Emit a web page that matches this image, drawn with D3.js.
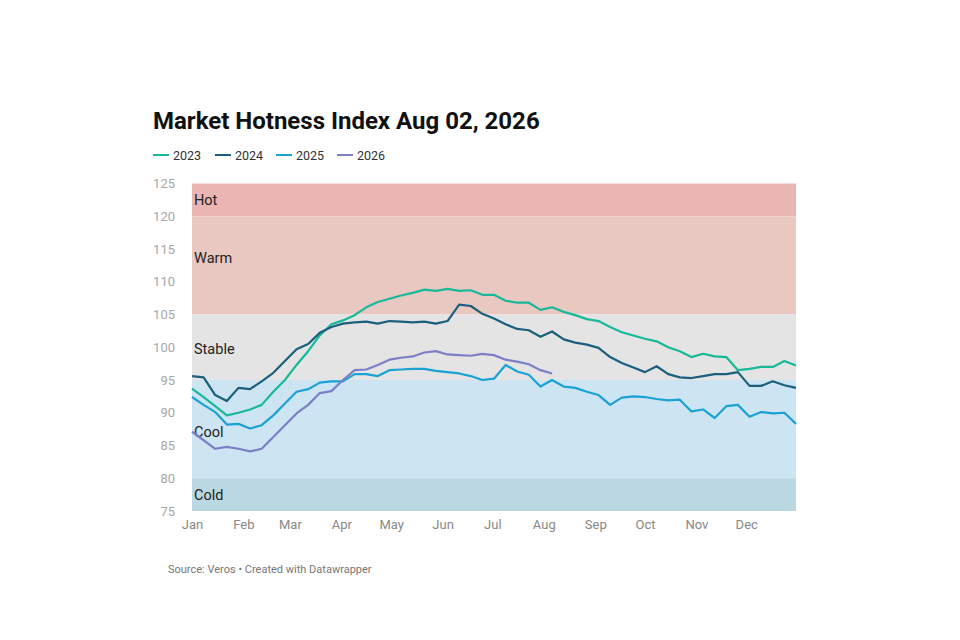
<!DOCTYPE html>
<html>
<head>
<meta charset="utf-8">
<script src="https://cdn.jsdelivr.net/npm/d3@7"></script>
<style>
  body { margin: 0; background: #fff; font-family: Roboto, "Noto Sans", sans-serif; }
  svg { display: block; }
</style>
</head>
<body>
<svg id="chart" width="960" height="640"></svg>
<script>
// ---- data ----
const seriesNames = ["2023", "2024", "2025", "2026"];
const seriesColors = ["#17b99a", "#1a5f7c", "#1aa2d5", "#7c7fc6"];

const values2023 = [93.7, 92.4, 91.0, 89.6, 90.0, 90.5, 91.2, 93.2, 95.0, 97.3, 99.4, 101.8, 103.5, 104.1, 104.9, 106.1, 106.9, 107.4, 107.9, 108.3, 108.8, 108.6, 108.9, 108.6, 108.7, 108.0, 108.0, 107.1, 106.8, 106.8, 105.7, 106.1, 105.4, 104.9, 104.3, 104.0, 103.1, 102.3, 101.8, 101.3, 100.9, 100.0, 99.4, 98.5, 99.0, 98.6, 98.5, 96.5, 96.7, 97.0, 97.0, 97.9, 97.2];
const values2024 = [95.6, 95.4, 92.7, 91.8, 93.8, 93.6, 94.8, 96.1, 97.9, 99.7, 100.5, 102.2, 103.1, 103.6, 103.8, 103.9, 103.6, 104.0, 103.9, 103.8, 103.9, 103.6, 104.0, 106.5, 106.3, 105.1, 104.4, 103.5, 102.8, 102.6, 101.6, 102.4, 101.2, 100.7, 100.4, 99.9, 98.5, 97.6, 96.9, 96.2, 97.1, 95.9, 95.4, 95.3, 95.6, 95.9, 95.9, 96.2, 94.1, 94.1, 94.8, 94.2, 93.8];
const values2025 = [92.4, 91.2, 90.1, 88.2, 88.3, 87.6, 88.1, 89.6, 91.4, 93.2, 93.6, 94.6, 94.8, 94.8, 95.9, 95.9, 95.6, 96.5, 96.6, 96.7, 96.7, 96.4, 96.2, 96.0, 95.6, 95.0, 95.2, 97.3, 96.3, 95.8, 94.0, 95.0, 94.0, 93.8, 93.2, 92.7, 91.2, 92.3, 92.5, 92.4, 92.1, 91.9, 92.0, 90.2, 90.5, 89.2, 91.0, 91.2, 89.4, 90.1, 89.9, 90.0, 88.3];
const values2026 = [87.1, 85.8, 84.5, 84.8, 84.5, 84.1, 84.5, 86.3, 88.1, 89.9, 91.2, 93.0, 93.3, 95.0, 96.5, 96.6, 97.3, 98.1, 98.4, 98.6, 99.2, 99.4, 98.9, 98.8, 98.7, 99.0, 98.8, 98.1, 97.8, 97.4, 96.5, 96.0];

const bandNames = ["Hot", "Warm", "Stable", "Cool", "Cold"];
const bandFrom = [120, 105, 95, 80, 75];
const bandTo = [125, 120, 105, 95, 80];
const bandColors = ["#ebb5b3", "#e9c8c2", "#e4e4e4", "#cde4f3", "#bbd8e2"];
const bandLabelAt = [122.5, 113.7, 99.8, 87.0, 77.4];

const yTicks = [75, 80, 85, 90, 95, 100, 105, 110, 115, 120, 125];

const title = "Market Hotness Index Aug 02, 2026";
const source = "Source: Veros • Created with Datawrapper";

// ---- layout ----
const svg = d3.select("#chart");
const margin = { left: 192, right: 796, top: 183.5, bottom: 511 };
const baseYear = 2021;
const dayDate = i => new Date(baseYear, 0, 1 + i * 7);

const x = d3.scaleTime()
  .domain([new Date(baseYear, 0, 1), new Date(baseYear, 11, 31)])
  .range([margin.left, margin.right]);
const y = d3.scaleLinear().domain([75, 125]).range([margin.bottom, margin.top]);

// title
svg.append("text").attr("x", 153).attr("y", 129)
  .attr("font-size", 24).attr("font-weight", 700).attr("fill", "#111")
  .text(title);

// legend
const allSeries = [values2023, values2024, values2025, values2026];
const legendX = [153, 215, 276, 337];
seriesNames.forEach((name, k) => {
  const g = svg.append("g").attr("transform", `translate(${legendX[k]},155)`);
  g.append("line").attr("x1", 0).attr("x2", 16).attr("y1", 0).attr("y2", 0)
    .attr("stroke", seriesColors[k]).attr("stroke-width", 2);
  g.append("text").attr("x", 20).attr("y", 4.5).attr("font-size", 12.5)
    .attr("fill", "#333").text(name);
});

// bands
bandNames.forEach((name, k) => {
  svg.append("rect")
    .attr("x", margin.left).attr("width", margin.right - margin.left)
    .attr("y", y(bandTo[k])).attr("height", y(bandFrom[k]) - y(bandTo[k]))
    .attr("fill", bandColors[k]);
});

// y axis
const yAxis = d3.axisLeft(y).tickValues(yTicks).tickSize(0).tickPadding(17);
const yg = svg.append("g").attr("transform", `translate(${margin.left},0)`).call(yAxis);
yg.select(".domain").remove();
yg.selectAll("text").attr("font-size", 13).attr("fill", "#a8a8a8")
  .attr("font-family", "Roboto, sans-serif");

// x axis
const xAxis = d3.axisBottom(x).ticks(d3.timeMonth.every(1))
  .tickFormat(d3.timeFormat("%b")).tickSize(0).tickPadding(9);
const xg = svg.append("g").attr("transform", `translate(0,${margin.bottom})`).call(xAxis);
xg.select(".domain").remove();
xg.selectAll("text").attr("font-size", 13).attr("fill", "#888")
  .attr("font-family", "Roboto, sans-serif");

// band labels
bandNames.forEach((name, k) => {
  svg.append("text").attr("x", margin.left + 2).attr("y", y(bandLabelAt[k]))
    .attr("dy", "0.35em").attr("font-size", 14.5).attr("fill", "#222")
    .text(name);
});

// lines
const line = d3.line().x((d, i) => x(dayDate(i))).y(d => y(d));
allSeries.forEach((vals, k) => {
  svg.append("path").datum(vals)
    .attr("fill", "none").attr("stroke", seriesColors[k])
    .attr("stroke-width", 2.2).attr("stroke-linejoin", "round")
    .attr("d", line);
});

// source
svg.append("text").attr("x", 168).attr("y", 573)
  .attr("font-size", 11).attr("fill", "#777").text(source);
</script>
</body>
</html>
